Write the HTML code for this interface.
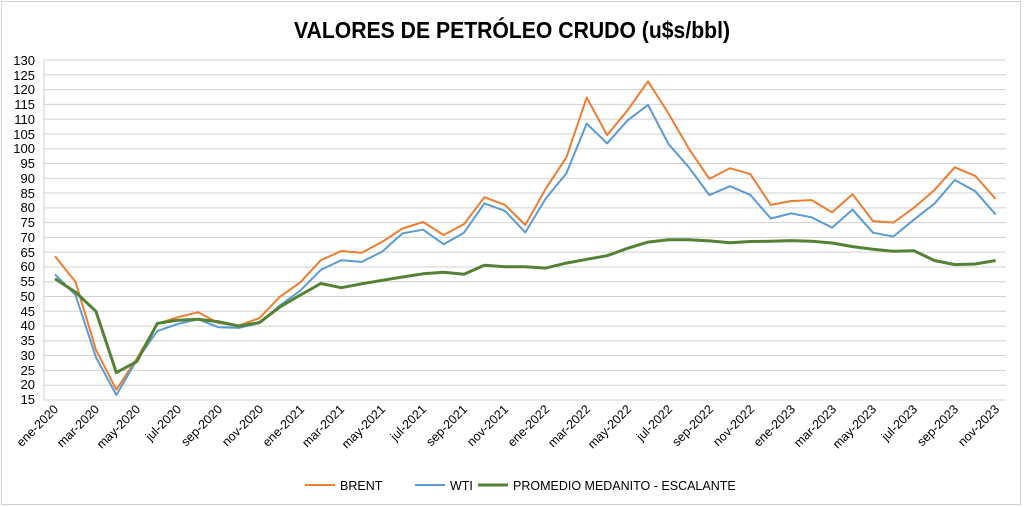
<!DOCTYPE html>
<html><head><meta charset="utf-8"><style>
html,body{margin:0;padding:0;background:#fff;}
svg{display:block;font-family:"Liberation Sans",sans-serif;}
</style></head><body>
<svg id="s" width="1024" height="507" viewBox="0 0 1024 507">
<rect x="1.5" y="1.5" width="1019" height="503" fill="#fff" stroke="#d0d0d0"/>
<text x="512" y="38" text-anchor="middle" font-size="23" font-weight="bold" fill="#000" textLength="436" lengthAdjust="spacingAndGlyphs">VALORES DE PETRÓLEO CRUDO (u$s/bbl)</text>
<g id="grid"></g>
<g font-size="13" fill="#000" text-anchor="end">
<text x="35" y="65">130</text><text x="35" y="80">125</text><text x="35" y="94">120</text><text x="35" y="109">115</text><text x="35" y="124">110</text><text x="35" y="139">105</text><text x="35" y="153">100</text><text x="35" y="168">95</text><text x="35" y="183">90</text><text x="35" y="198">85</text><text x="35" y="212">80</text><text x="35" y="227">75</text><text x="35" y="242">70</text><text x="35" y="257">65</text><text x="35" y="271">60</text><text x="35" y="286">55</text><text x="35" y="301">50</text><text x="35" y="316">45</text><text x="35" y="330">40</text><text x="35" y="345">35</text><text x="35" y="360">30</text><text x="35" y="375">25</text><text x="35" y="389">20</text><text x="35" y="404">15</text>
</g>
<g font-size="12.5" fill="#000" text-anchor="end">
<text transform="translate(59,410) rotate(-45)">ene-2020</text>
<text transform="translate(100,410) rotate(-45)">mar-2020</text>
<text transform="translate(141,410) rotate(-45)">may-2020</text>
<text transform="translate(182,410) rotate(-45)">jul-2020</text>
<text transform="translate(223,410) rotate(-45)">sep-2020</text>
<text transform="translate(264,410) rotate(-45)">nov-2020</text>
<text transform="translate(305,410) rotate(-45)">ene-2021</text>
<text transform="translate(345,410) rotate(-45)">mar-2021</text>
<text transform="translate(386,410) rotate(-45)">may-2021</text>
<text transform="translate(427,410) rotate(-45)">jul-2021</text>
<text transform="translate(468,410) rotate(-45)">sep-2021</text>
<text transform="translate(509,410) rotate(-45)">nov-2021</text>
<text transform="translate(550,410) rotate(-45)">ene-2022</text>
<text transform="translate(591,410) rotate(-45)">mar-2022</text>
<text transform="translate(632,410) rotate(-45)">may-2022</text>
<text transform="translate(673,410) rotate(-45)">jul-2022</text>
<text transform="translate(714,410) rotate(-45)">sep-2022</text>
<text transform="translate(755,410) rotate(-45)">nov-2022</text>
<text transform="translate(796,410) rotate(-45)">ene-2023</text>
<text transform="translate(837,410) rotate(-45)">mar-2023</text>
<text transform="translate(877,410) rotate(-45)">may-2023</text>
<text transform="translate(918,410) rotate(-45)">jul-2023</text>
<text transform="translate(959,410) rotate(-45)">sep-2023</text>
<text transform="translate(1000,410) rotate(-45)">nov-2023</text>
</g>
<g id="lines" fill="none" stroke-linejoin="round"></g>
<g font-size="12.5" fill="#000">
<line x1="305" y1="485" x2="335" y2="485" stroke="#ED7D31" stroke-width="2"/><text x="340" y="490">BRENT</text>
<line x1="415" y1="485" x2="445" y2="485" stroke="#5B9BD5" stroke-width="2"/><text x="450" y="490">WTI</text>
<line x1="478" y1="485" x2="508" y2="485" stroke="#548235" stroke-width="3"/><text x="513" y="490">PROMEDIO MEDANITO - ESCALANTE</text>
</g>
</svg>
<script>
var NS="http://www.w3.org/2000/svg";
function Y(v){return 400-(v-15)*340/115;}
var g=document.getElementById("grid");
for(var v=15;v<=130;v+=5){var l=document.createElementNS(NS,"line");l.setAttribute("x1",44);l.setAttribute("x2",1006);l.setAttribute("y1",Y(v));l.setAttribute("y2",Y(v));l.setAttribute("stroke","#d0d0d0");l.setAttribute("stroke-width","1");g.appendChild(l);}
var vl=document.createElementNS(NS,"line");vl.setAttribute("x1",44);vl.setAttribute("x2",44);vl.setAttribute("y1",Y(130));vl.setAttribute("y2",Y(15));vl.setAttribute("stroke","#d0d0d0");g.appendChild(vl);
var B=[63.6,55,32,18.5,29,40.8,43,44.7,41,40.2,42.7,49.9,54.8,62.3,65.4,64.8,68.5,73,75.2,70.8,74.5,83.6,81,74.2,86.5,97,117.3,104.6,113,122.8,111.9,100,89.8,93.4,91.4,81,82.3,82.6,78.5,84.6,75.5,75,80,86,93.7,90.8,83];
var W=[57.5,50.5,29.5,16.7,28.5,38.3,40.7,42.3,39.6,39.4,41,47,52,59,62.3,61.7,65.2,71.4,72.6,67.7,71.6,81.5,79,71.7,83.2,91.6,108.5,101.8,109.6,114.8,101.6,93.7,84.3,87.3,84.4,76.4,78.1,76.8,73.3,79.4,71.6,70.3,76,81.4,89.4,85.6,77.7];
var P=[56,51.5,45,24.3,28,40.9,42,42.3,41.5,40,41.2,46.5,50.5,54.4,53,54.3,55.5,56.6,57.7,58.2,57.5,60.6,60.1,60.1,59.6,61.3,62.6,63.8,66.3,68.4,69.2,69.2,68.8,68.2,68.6,68.7,68.9,68.7,68.1,66.9,66,65.3,65.5,62.2,60.8,61,62.2];
function add(d,c,w){var p=document.createElementNS(NS,"polyline");p.setAttribute("points",d.map(function(v,i){return (55+i*20.45).toFixed(1)+","+Y(v).toFixed(1);}).join(" "));p.setAttribute("stroke",c);p.setAttribute("stroke-width",w);document.getElementById("lines").appendChild(p);}
add(B,"#ED7D31",2);add(W,"#5B9BD5",2);add(P,"#548235",3);
</script>
</body></html>
